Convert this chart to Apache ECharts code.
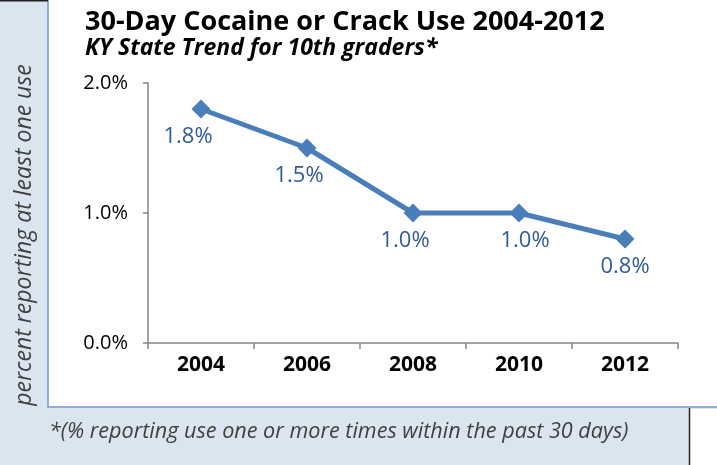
<!DOCTYPE html>
<html><head><meta charset="utf-8">
<script src="https://cdn.jsdelivr.net/npm/echarts@6/dist/echarts.min.js"></script>
<style>html,body{margin:0;padding:0;background:#fff}#c{width:717px;height:465px}</style>
</head><body><div id="c"></div>
<script>
const years = ['2004','2006','2008','2010','2012'];
const values = [1.8, 1.5, 1.0, 1.0, 0.8];
const yTicks = [0, 1, 2];
const titleText = '30-Day Cocaine or Crack Use 2004-2012';
const subtitleText = 'KY State Trend for 10th graders*';
const yAxisTitle = 'percent reporting at least one use';
const footnote = '*(% reporting use one or more times within the past 30 days)';

const labelOffsets = [[-13, 0], [-8, 0], [-8, 0], [6, 0], [0, 0]];
const chart = echarts.init(document.getElementById('c'));
const font = '"Open Sans", "DejaVu Sans", sans-serif';
chart.setOption({
  animation: false,
  backgroundColor: '#dae5f0',
  graphic: [
    {type: 'rect', shape: {x: 48, y: -3, width: 680, height: 410}, style: {fill: '#ffffff', stroke: '#6f98cf', lineWidth: 1.5}, z: -10},
    {type: 'line', shape: {x1: 0, y1: 0.5, x2: 48, y2: 0.5}, style: {stroke: '#222', lineWidth: 2}, z: -5},
    {type: 'rect', shape: {x: 690, y: 409, width: 27, height: 56}, style: {fill: '#ffffff'}, z: -9},
    {type: 'line', shape: {x1: 689.5, y1: 408, x2: 689.5, y2: 465}, style: {stroke: '#222', lineWidth: 1.5}, z: -5},
    {type: 'text', x: 85, y: 22, style: {text: titleText, font: 'bold 27px ' + font, fill: '#000', textVerticalAlign: 'middle'}},
    {type: 'text', x: 85, y: 48, style: {text: subtitleText, font: 'italic bold 23px ' + font, fill: '#000', textVerticalAlign: 'middle'}},
    {type: 'text', x: 24, y: 235, rotation: Math.PI / 2, style: {text: yAxisTitle, font: 'italic 23px ' + font, fill: '#404040', textAlign: 'center', textVerticalAlign: 'middle'}},
    {type: 'text', x: 49, y: 432, style: {text: footnote, font: 'italic 21.6px ' + font, fill: '#404040', textVerticalAlign: 'middle'}}
  ],
  grid: {left: 148, right: 39, top: 83, bottom: 122},
  xAxis: {
    type: 'category', data: years, boundaryGap: true,
    axisLine: {lineStyle: {color: '#868686', width: 1.5}},
    axisTick: {show: true, length: 6, lineStyle: {color: '#868686', width: 1.5}},
    axisLabel: {color: '#000', fontWeight: 'bold', fontSize: 21, fontFamily: font, margin: 12}
  },
  yAxis: {
    type: 'value', min: yTicks[0], max: yTicks[yTicks.length - 1], interval: 1,
    splitLine: {show: false},
    axisLine: {show: true, lineStyle: {color: '#868686', width: 1.5}},
    axisTick: {show: true, length: 5, lineStyle: {color: '#868686', width: 1.5}},
    axisLabel: {color: '#000', fontSize: 20, fontFamily: font, margin: 20, formatter: v => v.toFixed(1) + '%'}
  },
  series: [{
    type: 'line', data: values.map((v, i) => ({value: v, label: {offset: labelOffsets[i]}})),
    symbol: 'diamond', symbolSize: 19,
    lineStyle: {color: '#4a7ebb', width: 5},
    itemStyle: {color: '#4a7ebb'},
    label: {show: true, position: 'bottom', distance: 7, color: '#2f5b96', fontSize: 22, fontFamily: font, formatter: p => p.value.toFixed(1) + '%'}
  }]
});
</script></body></html>
